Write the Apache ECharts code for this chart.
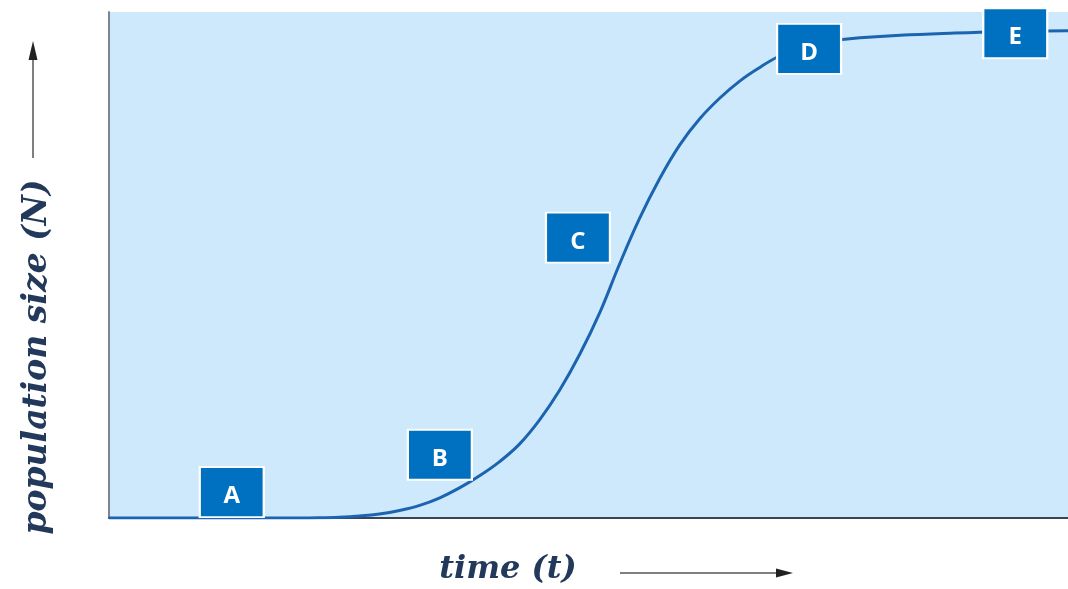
<!DOCTYPE html>
<html>
<head>
<meta charset="utf-8">
<script src="https://cdn.jsdelivr.net/npm/echarts@6/dist/echarts.min.js"></script>
<style>
  html, body { margin: 0; padding: 0; background: #fff; }
  #main { width: 1068px; height: 589px; }
</style>
</head>
<body>
<div id="main"></div>
<script>
// logistic growth curve (time 0-100, N 0-100)
var timeVals = [0, 9.4, 19.8, 21.9, 24.0, 26.1, 28.2, 30.3, 32.4, 34.5, 36.5, 38.6, 40.7, 42.8, 44.9, 47.0, 49.1, 51.2, 53.2, 55.3, 57.4, 59.5, 61.6, 63.7, 65.8, 67.9, 69.9, 72.0, 74.1, 76.2, 78.3, 82.5, 87.7, 92.9, 100];
var sizeVals = [0, 0, 0, 0.04, 0.16, 0.4, 0.8, 1.5, 2.5, 4.0, 5.9, 8.3, 11.1, 14.6, 19.4, 25.3, 32.4, 40.7, 50.0, 59.1, 67.0, 73.7, 78.9, 83.0, 86.4, 89.1, 91.3, 92.9, 93.9, 94.5, 94.9, 95.4, 95.8, 96.1, 96.3];

// stage markers
var stageNames = ['A', 'B', 'C', 'D', 'E'];
var stageTime = [12.8, 34.5, 48.9, 73.0, 94.5];
var stageSize = [5.1, 12.5, 55.4, 92.7, 95.8];

var curve = [];
for (var i = 0; i < timeVals.length; i++) {
  curve.push([timeVals[i], sizeVals[i]]);
}
var stages = [];
for (var j = 0; j < stageNames.length; j++) {
  stages.push({ name: stageNames[j], value: [stageTime[j], stageSize[j]] });
}

var chart = echarts.init(document.getElementById('main'));
var option = {
  animation: false,
  grid: {
    left: 109, right: 0, top: 12, bottom: 71,
    show: true, backgroundColor: '#cde9fb', borderWidth: 0
  },
  xAxis: {
    type: 'value', min: 0, max: 100,
    axisLine: { show: true, lineStyle: { color: '#3b4354', width: 2 } },
    axisTick: { show: false }, axisLabel: { show: false }, splitLine: { show: false }
  },
  yAxis: {
    type: 'value', min: 0, max: 100,
    axisLine: { show: true, lineStyle: { color: '#7d8496', width: 2 } },
    axisTick: { show: false }, axisLabel: { show: false }, splitLine: { show: false }
  },
  series: [
    {
      type: 'line',
      data: curve,
      smooth: 0.4,
      showSymbol: false,
      lineStyle: { color: '#1c64b0', width: 3 },
      z: 2
    },
    {
      type: 'scatter',
      data: stages,
      clip: false,
      symbol: 'rect',
      symbolSize: [64, 50],
      itemStyle: { color: '#0070c0', borderColor: '#ffffff', borderWidth: 2, opacity: 1 },
      label: {
        show: true, position: 'inside', formatter: '{b}', offset: [0, 4],
        color: '#ffffff', fontFamily: 'Open Sans', fontWeight: 'bold', fontSize: 24
      },
      z: 3
    }
  ],
  graphic: [
    {
      type: 'text', x: 37, y: 357, rotation: Math.PI / 2,
      style: {
        text: 'population size (N)', align: 'center', verticalAlign: 'middle',
        font: 'italic bold 33px "DejaVu Serif"', fill: '#22395c'
      }
    },
    {
      type: 'line', shape: { x1: 33, y1: 158, x2: 33, y2: 52 },
      style: { stroke: '#555', lineWidth: 1.5 }
    },
    {
      type: 'polygon', shape: { points: [[33, 41], [28.5, 60], [37.5, 60]] },
      style: { fill: '#222' }
    },
    {
      type: 'text', x: 508, y: 570,
      style: {
        text: 'time (t)', align: 'center', verticalAlign: 'middle',
        font: 'italic bold 32px "DejaVu Serif"', fill: '#22395c'
      }
    },
    {
      type: 'line', shape: { x1: 620, y1: 573, x2: 782, y2: 573 },
      style: { stroke: '#555', lineWidth: 1.5 }
    },
    {
      type: 'polygon', shape: { points: [[793, 573], [776, 568.5], [776, 577.5]] },
      style: { fill: '#222' }
    }
  ]
};
chart.setOption(option);
</script>
</body>
</html>
